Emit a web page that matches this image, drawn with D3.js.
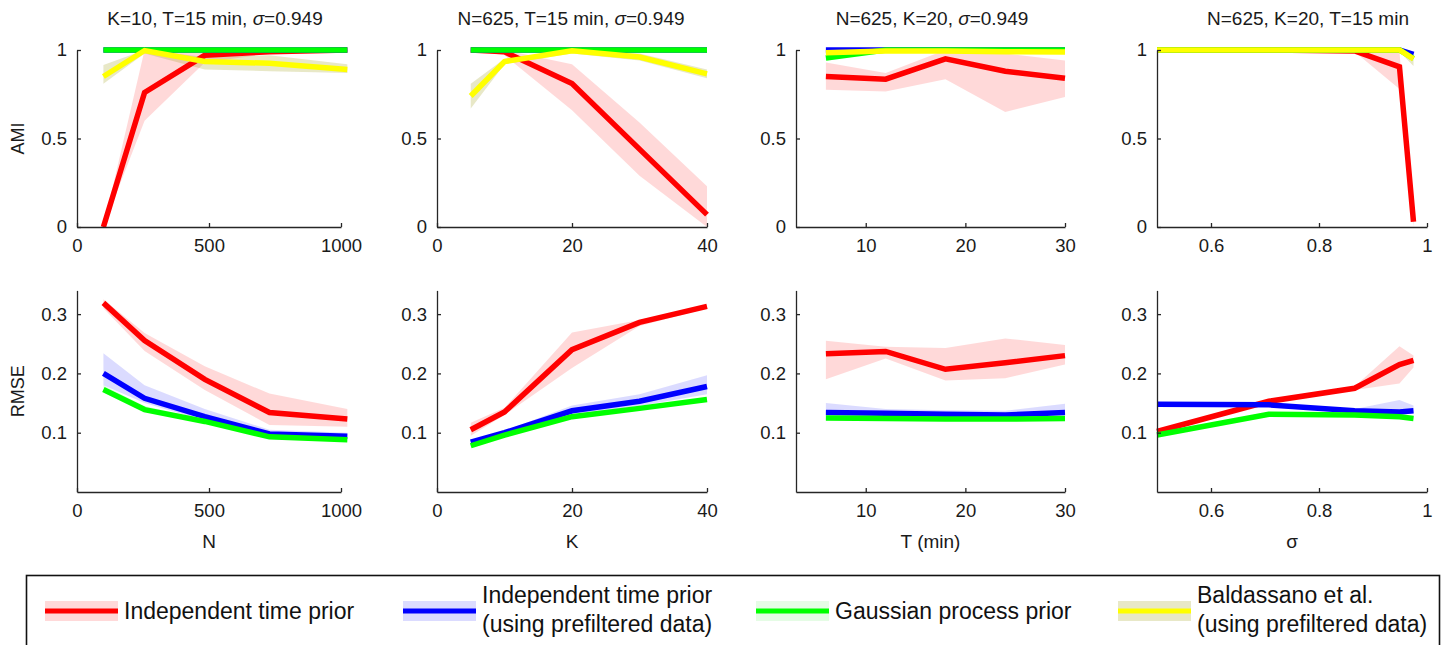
<!DOCTYPE html>
<html><head><meta charset="utf-8">
<script src="https://cdn.jsdelivr.net/npm/d3@7"></script>
<style>
html,body{margin:0;padding:0;background:#fff;}
svg{display:block;font-family:"Liberation Sans",Arial,Helvetica,sans-serif;}
</style></head>
<body><svg id="chart" width="1448" height="645"></svg>
<script>
// ---------- x values ----------
const xN = [100, 256, 484, 729, 1024];
const xK = [5, 10, 20, 30, 40];
const xT = [6, 12, 18, 24, 30];
const xSigma = [0.5, 0.707, 0.866, 0.949, 0.975];

// ---------- tick labels ----------
const ticksN = [0, 500, 1000];
const ticksK = [0, 20, 40];
const ticksT = [10, 20, 30];
const ticksSigma = [0.6, 0.8, 1];
const ticksAMI = [0, 0.5, 1];
const ticksRMSE = [0.1, 0.2, 0.3];

// ---------- series names ----------
const seriesNames = ["Independent time prior", "Independent time prior\n(using prefiltered data)", "Gaussian process prior", "Baldassano et al.\n(using prefiltered data)"];
const panelTitles = [["K=10, T=15 min, ", "σ", "=0.949"], ["N=625, T=15 min, ", "σ", "=0.949"], ["N=625, K=20, ", "σ", "=0.949"], ["N=625, K=20, T=15 min", "", ""]];
const xLabels = ["N", "K", "T (min)", "σ"];

// ---------- AMI values: [mean, lower, upper] per x ----------
const amiN_red    = [[0,0,0],[0.76,0.6,1.0],[0.97,0.93,1.0],[0.99,0.98,1.0],[1.0,0.99,1.0]];
const amiN_blue   = [[1,0.995,1],[1,0.995,1],[1,0.995,1],[1,0.995,1],[1,0.995,1]];
const amiN_green  = [[1,0.995,1],[1,0.995,1],[1,0.995,1],[1,0.995,1],[1,0.995,1]];
const amiN_yellow = [[0.85,0.81,0.915],[0.997,0.98,1.0],[0.935,0.89,0.96],[0.925,0.88,0.97],[0.89,0.87,0.92]];

const amiK_red    = [[1.0,1.0,1.0],[0.99,0.97,1.0],[0.81,0.66,0.92],[0.44,0.29,0.59],[0.07,0.0,0.23]];
const amiK_blue   = [[1,0.995,1],[1,0.995,1],[1,0.995,1],[1,0.995,1],[1,0.995,1]];
const amiK_green  = [[1,0.995,1],[1,0.995,1],[1,0.995,1],[1,0.995,1],[1,0.995,1]];
const amiK_yellow = [[0.74,0.67,0.81],[0.935,0.92,0.95],[0.995,0.98,1.0],[0.96,0.94,0.98],[0.865,0.84,0.89]];

const amiT_red    = [[0.85,0.775,0.93],[0.835,0.765,0.87],[0.95,0.835,1.0],[0.88,0.65,0.98],[0.84,0.735,0.94]];
const amiT_blue   = [[1.0,0.995,1],[1,0.995,1],[1,0.995,1],[1,0.995,1],[1,0.995,1]];
const amiT_green  = [[0.955,0.94,0.965],[1,0.995,1],[1,0.995,1],[1,0.995,1],[1,0.995,1]];
const amiT_yellow = [[0.985,0.975,0.995],[0.995,0.99,1],[0.995,0.99,1],[0.99,0.985,1],[0.988,0.98,0.995]];

const amiS_red    = [[1,1,1],[1,1,1],[0.995,0.99,1],[0.905,0.78,0.99],[0.03,0.0,0.06]];
const amiS_blue   = [[1,1,1],[1,1,1],[1,1,1],[1,0.995,1],[0.975,0.96,0.99]];
const amiS_green  = [[1,1,1],[1,1,1],[1,1,1],[1,0.995,1],[0.952,0.94,0.965]];
const amiS_yellow = [[1,1,1],[1,1,1],[1,1,1],[1,0.99,1],[0.95,0.91,0.97]];

// ---------- RMSE values: [mean, lower, upper] per x ----------
const rmseN_red   = [[0.319,0.31,0.325],[0.2555,0.238,0.268],[0.19,0.172,0.212],[0.134,0.113,0.166],[0.123,0.11,0.14]];
const rmseN_blue  = [[0.2,0.18,0.234],[0.158,0.15,0.18],[0.127,0.12,0.14],[0.098,0.095,0.105],[0.094,0.09,0.1]];
const rmseN_green = [[0.173,0.168,0.18],[0.139,0.135,0.145],[0.119,0.116,0.122],[0.093,0.09,0.096],[0.088,0.085,0.091]];

const rmseK_red   = [[0.105,0.095,0.117],[0.135,0.13,0.142],[0.24,0.209,0.269],[0.286,0.28,0.29],[0.313,0.31,0.316]];
const rmseK_blue  = [[0.084,0.082,0.087],[0.1,0.098,0.103],[0.137,0.13,0.146],[0.153,0.145,0.165],[0.178,0.165,0.197]];
const rmseK_green = [[0.078,0.075,0.081],[0.096,0.093,0.099],[0.127,0.124,0.13],[0.141,0.138,0.144],[0.156,0.153,0.159]];

const rmseT_red   = [[0.233,0.19,0.255],[0.237,0.225,0.245],[0.207,0.188,0.243],[0.218,0.192,0.259],[0.23,0.215,0.248]];
const rmseT_blue  = [[0.134,0.13,0.15],[0.133,0.129,0.14],[0.131,0.128,0.138],[0.13,0.127,0.137],[0.134,0.13,0.149]];
const rmseT_green = [[0.125,0.122,0.128],[0.124,0.121,0.127],[0.123,0.12,0.126],[0.123,0.12,0.126],[0.124,0.121,0.127]];

const rmseS_red   = [[0.102,0.1,0.105],[0.153,0.15,0.156],[0.175,0.172,0.178],[0.215,0.183,0.246],[0.222,0.21,0.23]];
const rmseS_blue  = [[0.148,0.146,0.15],[0.147,0.145,0.149],[0.137,0.134,0.14],[0.135,0.13,0.155],[0.137,0.133,0.146]];
const rmseS_green = [[0.096,0.093,0.099],[0.131,0.128,0.134],[0.13,0.127,0.133],[0.127,0.124,0.13],[0.124,0.121,0.127]];

// ---------- styling ----------
const lineColors = ["#ff0000", "#0000ff", "#00ff00", "#ffff00"];
const bandColors = ["rgba(255,0,0,0.15)", "rgba(0,0,255,0.14)", "rgba(0,230,0,0.10)", "rgba(150,150,0,0.22)"];
const axisColor = "#262626";
const FONT = '"Liberation Sans",Arial,Helvetica,sans-serif';

const svg = d3.select("#chart");

const cols = [
  {xs: xN, domain: [0, 1000], range: [77, 341], ticks: ticksN, ami: [amiN_red, amiN_blue, amiN_green, amiN_yellow], rmse: [rmseN_red, rmseN_blue, rmseN_green], titleX: 215},
  {xs: xK, domain: [0, 40], range: [437, 707], ticks: ticksK, ami: [amiK_red, amiK_blue, amiK_green, amiK_yellow], rmse: [rmseK_red, rmseK_blue, rmseK_green], titleX: 571},
  {xs: xT, domain: [3, 30], range: [796, 1065], ticks: ticksT, ami: [amiT_red, amiT_blue, amiT_green, amiT_yellow], rmse: [rmseT_red, rmseT_blue, rmseT_green], titleX: 932},
  {xs: xSigma, domain: [0.5, 1], range: [1157, 1427], ticks: ticksSigma, ami: [amiS_red, amiS_blue, amiS_green, amiS_yellow], rmse: [rmseS_red, rmseS_blue, rmseS_green], titleX: 1308}
];

const rows = [
  {key: "ami", domain: [0, 1], range: [227, 50], ticks: ticksAMI, label: "AMI"},
  {key: "rmse", domain: [0, 0.34], range: [492, 290.4], ticks: ticksRMSE, label: "RMSE"}
];

cols.forEach((c, ci) => {
  const x = d3.scaleLinear().domain(c.domain).range(c.range);
  rows.forEach((r, ri) => {
    const y = d3.scaleLinear().domain(r.domain).range(r.range);
    const g = svg.append("g");
    const series = c[r.key];
    series.forEach((s, si) => {
      const area = d3.area().x((d, i) => x(c.xs[i])).y0(d => y(d[1])).y1(d => y(d[2]));
      g.append("path").attr("d", area(s)).attr("fill", bandColors[si]).attr("stroke", "none");
    });
    series.forEach((s, si) => {
      const line = d3.line().x((d, i) => x(c.xs[i])).y(d => y(d[0]));
      g.append("path").attr("d", line(s)).attr("fill", "none").attr("stroke", lineColors[si])
        .attr("stroke-width", 5.5).attr("stroke-linejoin", "miter").attr("stroke-linecap", "butt");
    });
    const xAxis = d3.axisBottom(x).tickValues(c.ticks).tickSizeInner(-4).tickSizeOuter(0).tickPadding(12).tickFormat(d => String(d));
    const ax = g.append("g").attr("transform", `translate(0,${r.range[0]})`).call(xAxis);
    const yAxis = d3.axisLeft(y).tickValues(r.ticks).tickSizeInner(-4).tickSizeOuter(0).tickPadding(10).tickFormat(d => String(d));
    const ay = g.append("g").attr("transform", `translate(${c.range[0]},0)`).call(yAxis);
    [ax, ay].forEach(a => {
      a.selectAll("path.domain").attr("stroke", axisColor).attr("stroke-width", 1.3);
      a.selectAll(".tick line").attr("stroke", axisColor).attr("stroke-width", 1.3);
      a.selectAll(".tick text").attr("fill", "#1a1a1a").style("font-family", FONT).style("font-size", "18.5px");
    });
    if (ci === 0) {
      const cy = (r.range[0] + r.range[1]) / 2;
      svg.append("text").attr("transform", `translate(24,${cy}) rotate(-90)`)
        .attr("text-anchor", "middle").attr("fill", "#1a1a1a")
        .style("font-size", "18px").text(r.label);
    }
  });
  const t = svg.append("text").attr("x", c.titleX).attr("y", 25).attr("text-anchor", "middle")
    .attr("fill", "#1a1a1a").style("font-size", "19px");
  const pt = panelTitles[ci];
  t.append("tspan").text(pt[0]);
  if (pt[1]) t.append("tspan").style("font-style", "italic").text(pt[1]);
  if (pt[2]) t.append("tspan").text(pt[2]);
  svg.append("text").attr("x", (c.range[0] + c.range[1]) / 2).attr("y", 548)
    .attr("text-anchor", "middle").attr("fill", "#1a1a1a").style("font-size", "19px").text(xLabels[ci]);
});

// ---------- legend ----------
const leg = svg.append("g");
leg.append("rect").attr("x", 26.5).attr("y", 575.5).attr("width", 1413).attr("height", 90)
  .attr("fill", "none").attr("stroke", "#111").attr("stroke-width", 1.6);
const legX = [45, 403, 756, 1118];
seriesNames.forEach((name, i) => {
  const x0 = legX[i], w = 73, cy = 611;
  leg.append("rect").attr("x", x0).attr("y", cy - 10).attr("width", w).attr("height", 20).attr("fill", bandColors[i]);
  leg.append("line").attr("x1", x0).attr("x2", x0 + w).attr("y1", cy).attr("y2", cy)
    .attr("stroke", lineColors[i]).attr("stroke-width", 5);
  const lines = name.split("\n");
  const txt = leg.append("text").attr("fill", "#111").style("font-size", "23px");
  if (lines.length === 1) {
    txt.append("tspan").attr("x", x0 + w + 6).attr("y", cy + 8).text(lines[0]);
  } else {
    txt.append("tspan").attr("x", x0 + w + 6).attr("y", cy - 8).text(lines[0]);
    txt.append("tspan").attr("x", x0 + w + 6).attr("y", cy + 21).text(lines[1]);
  }
});
</script></body></html>
